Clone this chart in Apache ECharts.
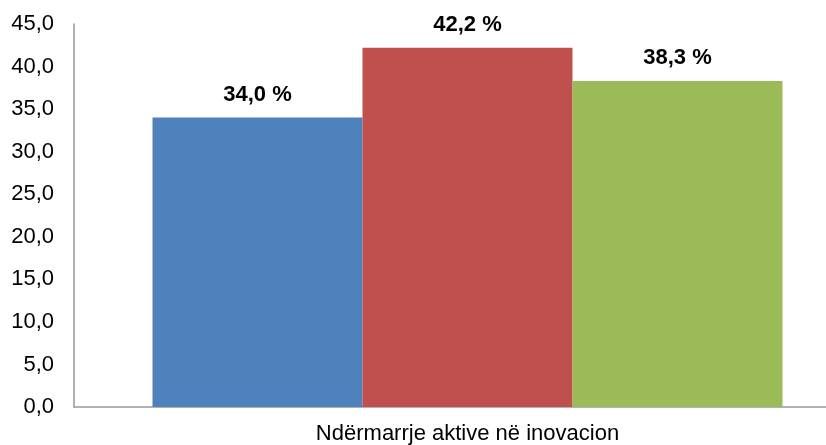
<!DOCTYPE html>
<html>
<head>
<meta charset="utf-8">
<script src="https://cdn.jsdelivr.net/npm/echarts@6/dist/echarts.min.js"></script>
<style>
    html, body {margin: 0; padding: 0; background: #fff; overflow: hidden;}
    /* wider than the window: the plot area runs past the right edge */
    #chart {width: 900px; height: 445px;}
</style>
</head>
<body>
<div id="chart"></div>
<script>
const categories = ['Ndërmarrje aktive në inovacion'];
const blue_values = [34.0];
const red_values = [42.2];
const green_values = [38.3];
const y_ticks = [0, 5, 10, 15, 20, 25, 30, 35, 40, 45];

const font = 'Liberation Sans, Arial, sans-serif';

function comma(v, digits) {
    return Number(v).toFixed(digits).replace('.', ',');
}

function gen_bar_series(data, color) {
    return {
        type: 'bar',
        data: data,
        barWidth: 210,
        barGap: '0%',
        itemStyle: {color: color},
        label: {
            show: true,
            position: 'top',
            distance: 12,
            color: '#000',
            fontFamily: font,
            fontWeight: 'bold',
            fontSize: 22,
            formatter: p => comma(p.value, 1) + ' %'
        }
    };
}

let chart = echarts.init(document.getElementById('chart'));

let option = {
    animation: false,
    grid: {left: 74, top: 24, width: 787, height: 384},
    xAxis: {
        type: 'category',
        data: categories,
        axisLine: {lineStyle: {color: '#999', width: 1.5}},
        axisTick: {show: false},
        axisLabel: {color: '#000', fontFamily: font, fontSize: 22, margin: 16}
    },
    yAxis: {
        type: 'value',
        min: y_ticks[0],
        max: y_ticks[y_ticks.length - 1],
        interval: 5,
        axisLine: {show: true, lineStyle: {color: '#999', width: 1.5}},
        axisTick: {show: false},
        splitLine: {show: false},
        axisLabel: {
            color: '#000', fontFamily: font, fontSize: 22, margin: 20,
            formatter: v => comma(v, 1)
        }
    },
    series: [
        gen_bar_series(blue_values, '#4F81BD'),
        gen_bar_series(red_values, '#C0504D'),
        gen_bar_series(green_values, '#9BBB59')
    ]
};

chart.setOption(option);
</script>
</body>
</html>
